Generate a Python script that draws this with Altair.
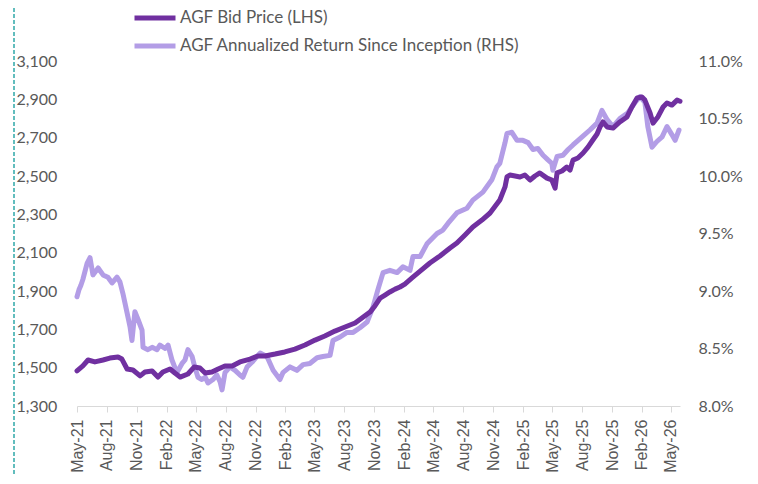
import altair as alt
import pandas as pd

# ---- data ----
bid_dates = [
    "2021-05-01", "2021-05-19", "2021-06-04", "2021-06-25", "2021-07-20", "2021-08-10",
    "2021-09-04", "2021-09-16", "2021-10-02", "2021-10-20", "2021-11-11", "2021-11-26",
    "2021-12-18", "2022-01-05", "2022-01-20", "2022-02-11", "2022-02-26", "2022-03-14",
    "2022-04-07", "2022-04-26", "2022-05-14", "2022-05-30", "2022-06-20", "2022-07-09",
    "2022-07-30", "2022-08-21", "2022-09-14", "2022-10-15", "2022-11-08", "2022-11-30",
    "2022-12-31", "2023-01-30", "2023-03-02", "2023-04-02", "2023-05-03", "2023-06-02",
    "2023-07-03", "2023-08-03", "2023-09-03", "2023-09-24", "2023-10-19", "2023-11-03",
    "2023-11-19", "2023-12-04", "2023-12-19", "2024-01-04", "2024-01-19", "2024-02-03",
    "2024-02-25", "2024-03-21", "2024-04-20", "2024-05-21", "2024-06-21", "2024-07-12",
    "2024-08-06", "2024-08-30", "2024-09-27", "2024-10-22", "2024-11-21", "2024-12-07",
    "2024-12-13", "2024-12-22", "2025-01-07", "2025-01-22", "2025-02-06", "2025-02-22",
    "2025-03-09", "2025-03-24", "2025-04-15", "2025-04-30", "2025-05-10", "2025-05-16",
    "2025-05-31", "2025-06-15", "2025-06-25", "2025-07-04", "2025-07-19", "2025-08-04",
    "2025-08-19", "2025-09-03", "2025-09-16", "2025-09-25", "2025-10-04", "2025-10-17",
    "2025-11-04", "2025-11-25", "2025-12-17", "2026-01-01", "2026-01-17", "2026-02-01",
    "2026-02-10", "2026-02-26", "2026-03-07", "2026-03-22", "2026-04-07", "2026-04-19",
    "2026-05-04", "2026-05-20", "2026-05-29",
]
bid_values = [
    1483, 1509, 1540, 1530, 1540, 1550,
    1556, 1545, 1493, 1488, 1457, 1477,
    1483, 1451, 1477, 1493, 1472, 1451,
    1467, 1503, 1498, 1472, 1477, 1493,
    1509, 1509, 1530, 1545, 1561, 1561,
    1571, 1582, 1597, 1618, 1644, 1665,
    1691, 1712, 1733, 1759, 1790, 1822,
    1863, 1879, 1895, 1910, 1921, 1936,
    1968, 2004, 2046, 2083, 2124, 2150,
    2192, 2234, 2270, 2307, 2375, 2443,
    2495, 2505, 2500, 2495, 2505, 2479,
    2500, 2516, 2489, 2479, 2437, 2516,
    2526, 2547, 2531, 2583, 2594, 2620,
    2651, 2688, 2719, 2756, 2782, 2756,
    2750, 2782, 2808, 2860, 2907, 2912,
    2896, 2829, 2776, 2808, 2860, 2881,
    2870, 2896, 2890,
]

ret_dates = [
    "2021-05-01", "2021-05-07", "2021-05-13", "2021-05-19", "2021-06-01", "2021-06-10",
    "2021-06-19", "2021-07-05", "2021-07-20", "2021-08-04", "2021-08-17", "2021-09-01",
    "2021-09-10", "2021-09-19", "2021-10-02", "2021-10-11", "2021-10-17", "2021-10-26",
    "2021-11-05", "2021-11-17", "2021-11-20", "2021-12-05", "2021-12-18", "2022-01-02",
    "2022-01-11", "2022-01-27", "2022-02-05", "2022-02-17", "2022-03-04", "2022-03-20",
    "2022-03-29", "2022-04-07", "2022-04-20", "2022-04-29", "2022-05-08", "2022-05-20",
    "2022-05-30", "2022-06-08", "2022-06-23", "2022-07-05", "2022-07-15", "2022-07-21",
    "2022-07-30", "2022-08-14", "2022-08-30", "2022-09-14", "2022-09-23", "2022-10-06",
    "2022-10-21", "2022-11-05", "2022-11-15", "2022-12-06", "2022-12-25", "2023-01-15",
    "2023-01-24", "2023-02-15", "2023-03-08", "2023-03-27", "2023-04-17", "2023-05-09",
    "2023-05-27", "2023-06-18", "2023-06-27", "2023-07-19", "2023-08-09", "2023-08-28",
    "2023-09-18", "2023-10-10", "2023-10-28", "2023-11-12", "2023-11-28", "2023-12-19",
    "2024-01-10", "2024-01-28", "2024-02-19", "2024-02-28", "2024-03-21", "2024-04-11",
    "2024-05-12", "2024-05-30", "2024-06-15", "2024-07-12", "2024-08-12", "2024-08-30",
    "2024-09-30", "2024-10-28", "2024-11-12", "2024-11-21", "2024-12-07", "2024-12-13",
    "2024-12-28", "2025-01-13", "2025-01-31", "2025-02-16", "2025-03-03", "2025-03-18",
    "2025-04-03", "2025-04-18", "2025-04-30", "2025-05-03", "2025-05-16", "2025-06-03",
    "2025-06-19", "2025-07-04", "2025-08-01", "2025-08-25", "2025-09-16", "2025-10-01",
    "2025-10-17", "2025-11-04", "2025-11-25", "2025-12-20", "2026-01-11", "2026-01-26",
    "2026-02-10", "2026-02-19", "2026-03-04", "2026-03-19", "2026-04-04", "2026-04-19",
    "2026-05-04", "2026-05-14", "2026-05-26",
]
ret_values = [
    8.95, 9.01, 9.05, 9.10, 9.24, 9.29,
    9.14, 9.20, 9.14, 9.12, 9.07, 9.12,
    9.08, 8.98, 8.81, 8.69, 8.57, 8.82,
    8.75, 8.66, 8.51, 8.49, 8.51, 8.49,
    8.53, 8.50, 8.53, 8.40, 8.29, 8.37,
    8.40, 8.49, 8.43, 8.33, 8.25, 8.23,
    8.25, 8.20, 8.23, 8.27, 8.21, 8.14,
    8.29, 8.34, 8.31, 8.27, 8.25, 8.34,
    8.38, 8.43, 8.46, 8.43, 8.31, 8.23,
    8.29, 8.34, 8.31, 8.36, 8.37, 8.42,
    8.43, 8.44, 8.57, 8.60, 8.64, 8.64,
    8.68, 8.73, 8.86, 9.01, 9.16, 9.18,
    9.16, 9.21, 9.18, 9.30, 9.30, 9.41,
    9.50, 9.53, 9.59, 9.68, 9.72, 9.79,
    9.86, 9.97, 10.08, 10.11, 10.29, 10.37,
    10.38, 10.31, 10.31, 10.29, 10.23, 10.24,
    10.18, 10.14, 10.11, 10.05, 10.17, 10.18,
    10.23, 10.27, 10.34, 10.40, 10.46, 10.57,
    10.49, 10.43, 10.50, 10.55, 10.64, 10.69,
    10.64, 10.43, 10.25, 10.30, 10.34, 10.43,
    10.36, 10.31, 10.40,
]

series_names = ["AGF Bid Price (LHS)", "AGF Annualized Return Since Inception (RHS)"]
series_colors = ["#7030A0", "#B39DE6"]
x_tick_months = [(y, m) for y in range(2021, 2027) for m in (2, 5, 8, 11)
                 if (y, m) >= (2021, 5) and (y, m) <= (2026, 5)]
left_ticks = [1300, 1500, 1700, 1900, 2100, 2300, 2500, 2700, 2900, 3100]
right_ticks = [8.0, 8.5, 9.0, 9.5, 10.0, 10.5, 11.0]

bid = pd.DataFrame({"date": pd.to_datetime(bid_dates), "value": bid_values,
                    "series": series_names[0]})
ret = pd.DataFrame({"date": pd.to_datetime(ret_dates), "value": ret_values,
                    "series": series_names[1]})

GREY = "#595959"
FONT = "Lato"

x_enc = alt.X(
    "date:T",
    scale=alt.Scale(domain=[alt.DateTime(year=2021, month=5, date=1),
                            alt.DateTime(year=2026, month=5, date=29)]),
    axis=alt.Axis(
        title=None,
        values=[alt.DateTime(year=y, month=m, date=1) for y, m in x_tick_months],
        format="%b-%y", labelAngle=-90, labelFont="Liberation Sans", labelFontSize=16,
        labelColor=GREY, labelPadding=7, labelFlush=False, labelOverlap=False,
        domainColor="#D9D9D9", tickColor="#D9D9D9", tickSize=6, grid=False,
    ),
)

color_enc = alt.Color(
    "series:N",
    scale=alt.Scale(domain=series_names, range=series_colors),
    legend=alt.Legend(
        title=None, orient="none", legendX=55, legendY=-53, direction="vertical",
        symbolType="stroke", symbolSize=1681, symbolStrokeWidth=5, clipHeight=20,
        rowPadding=8, labelOffset=2, labelFont=FONT, labelFontSize=17,
        labelColor=GREY, labelLimit=500, padding=0,
    ),
)

ret_line = alt.Chart(ret).mark_line(strokeWidth=5, strokeJoin="round", strokeCap="round").encode(
    x=x_enc,
    y=alt.Y("value:Q", scale=alt.Scale(domain=[8.0, 11.0], nice=False, zero=False),
            axis=alt.Axis(title=None, orient="right", values=right_ticks,
                          labelExpr="format(datum.value, '.1f') + '%'",
                          ticks=False, tickSize=0, domain=False, grid=False,
                          labelFont=FONT, labelFontSize=16, labelColor=GREY,
                          labelPadding=18, labelFlush=False, labelOverlap=False)),
    color=color_enc,
)

bid_line = alt.Chart(bid).mark_line(strokeWidth=5, strokeJoin="round", strokeCap="round").encode(
    x=x_enc,
    y=alt.Y("value:Q", scale=alt.Scale(domain=[1300, 3100], nice=False, zero=False),
            axis=alt.Axis(title=None, orient="left", values=left_ticks,
                          labelExpr="format(datum.value, ',.0f')",
                          ticks=False, tickSize=0, domain=False, grid=False,
                          labelFont=FONT, labelFontSize=16, labelColor=GREY,
                          labelAlign="left", labelPadding=61, labelFlush=False,
                          labelOverlap=False)),
    color=color_enc,
)

border = alt.Chart(pd.DataFrame({"k": [0]})).mark_rule(
    color="#2FA8A8", strokeDash=[4, 2], strokeWidth=1.5
).encode(x=alt.value(-63), y=alt.value(-53), y2=alt.value(415))

chart = alt.layer(ret_line, bid_line, border).resolve_scale(y="independent").properties(
    width=603, height=345,
    autosize=alt.AutoSizeParams(type="none"),
    padding={"left": 69, "top": 53, "right": 70, "bottom": 70},
    background="white",
).configure_view(stroke=None)

chart.save("out.html", embed_options={"renderer": "svg", "actions": False})
